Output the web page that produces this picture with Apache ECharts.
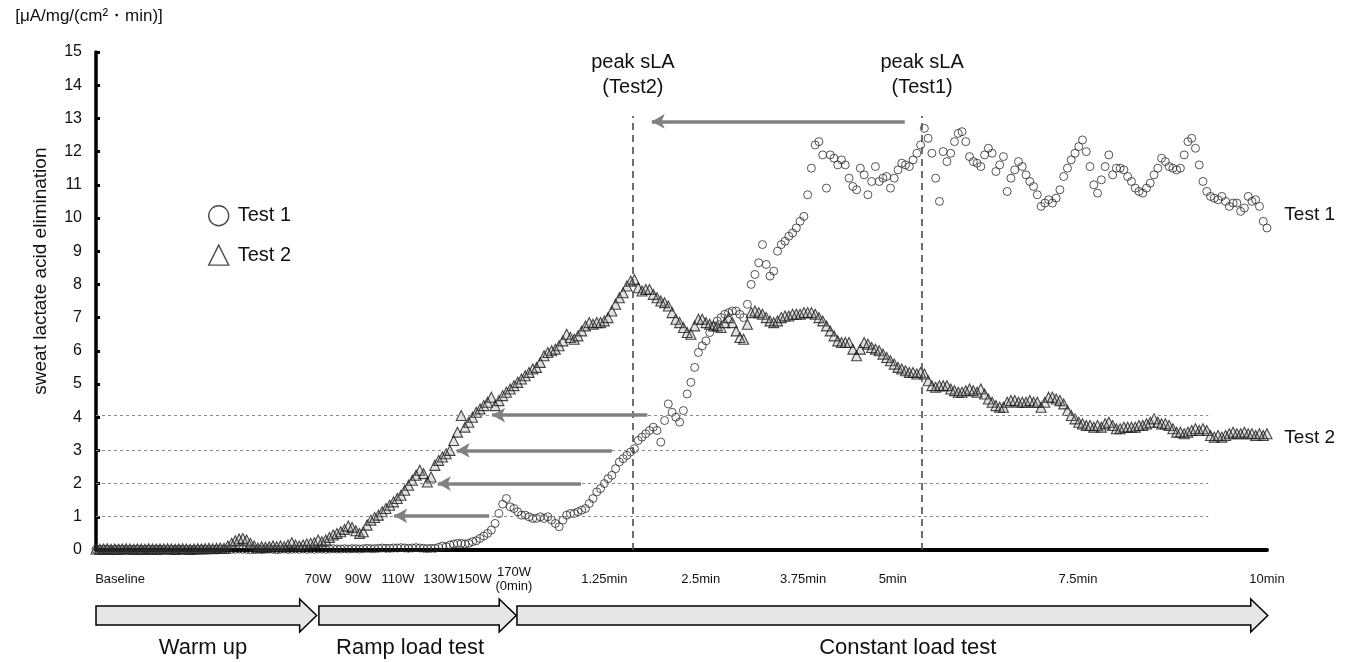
<!DOCTYPE html>
<html><head><meta charset="utf-8">
<script src="https://cdn.jsdelivr.net/npm/echarts@6/dist/echarts.min.js"></script>
<style>html,body{margin:0;padding:0;background:#fff}#c{width:1354px;height:662px}</style>
</head><body><div id="c"></div>
<script>
// sampling clock (minutes relative to start of constant load, 0 min = 170W)
const sampleStart = -5.55;
const sampleStep = 0.05;

const seriesNames = ['Test 1', 'Test 2'];

// Test 1 (circles), one value per sample
const test1 = [
0.02,0.01,0.03,0.02,0.01,0.02,0.03,0.02,0.01,0.02,
0.02,0.03,0.01,0.02,0.02,0.01,0.03,0.02,0.02,0.01,
0.02,0.02,0.03,0.01,0.02,0.02,0.01,0.02,0.03,0.02,
0.01,0.02,0.02,0.03,0.02,0.01,0.02,0.02,0.03,0.02,
0.02,0.01,0.02,0.03,0.02,0.02,0.03,0.02,0.01,0.02,
0.03,0.02,0.02,0.03,0.02,0.03,0.02,0.03,0.02,0.03,
0.03,0.02,0.03,0.04,0.03,0.03,0.04,0.03,0.04,0.04,
0.03,0.04,0.05,0.04,0.04,0.05,0.06,0.05,0.05,0.06,
0.06,0.07,0.06,0.05,0.06,0.07,0.06,0.05,0.04,0.05,
0.05,0.08,0.12,0.1,0.15,0.18,0.2,0.2,0.18,0.2,
0.25,0.28,0.35,0.42,0.5,0.6,0.8,1.1,1.38,1.55,
1.3,1.25,1.15,1.05,1.05,1.0,0.95,0.95,1.0,0.95,
1.0,0.9,0.8,0.7,0.9,1.05,1.1,1.1,1.15,1.2,
1.25,1.4,1.55,1.75,1.85,2.0,2.15,2.25,2.45,2.65,
2.75,2.85,2.95,3.05,3.3,3.4,3.5,3.6,3.7,3.6,
3.25,3.9,4.4,4.15,4.0,3.85,4.2,4.7,5.05,5.5,
5.95,6.15,6.3,6.55,6.75,6.9,7.0,7.1,7.15,7.2,
7.2,7.1,7.0,7.4,8.0,8.3,8.65,9.2,8.6,8.25,
8.4,9.0,9.2,9.3,9.45,9.55,9.7,9.9,10.05,10.7,
11.5,12.2,12.3,11.9,10.9,11.9,11.8,11.6,11.75,11.6,
11.2,10.95,10.85,11.5,11.3,10.7,11.1,11.55,11.1,11.2,
11.25,10.9,11.2,11.45,11.65,11.6,11.55,11.75,11.95,12.2,
12.7,12.4,11.95,11.2,10.5,12.0,11.7,11.95,12.3,12.55,
12.6,12.3,11.85,11.7,11.65,11.55,11.9,12.1,11.95,11.4,
11.6,11.85,10.8,11.2,11.45,11.7,11.55,11.3,11.1,10.95,
10.7,10.35,10.45,10.55,10.45,10.6,10.85,11.25,11.5,11.75,
11.95,12.15,12.35,12.0,11.55,11.0,10.75,11.15,11.55,11.9,
11.3,11.5,11.5,11.45,11.25,11.1,10.9,10.8,10.75,10.9,
11.05,11.3,11.5,11.8,11.7,11.55,11.5,11.45,11.5,11.9,
12.3,12.4,12.1,11.6,11.1,10.8,10.65,10.6,10.55,10.65,
10.5,10.35,10.45,10.45,10.2,10.3,10.65,10.5,10.55,10.35,9.9,9.7
];

// Test 2 (triangles), one value per sample
const test2 = [
0.03,0.02,0.03,0.04,0.02,0.03,0.02,0.03,0.04,0.03,
0.02,0.03,0.03,0.02,0.04,0.03,0.02,0.03,0.03,0.04,
0.03,0.02,0.03,0.04,0.03,0.02,0.03,0.04,0.03,0.04,
0.05,0.04,0.05,0.06,0.05,0.12,0.2,0.28,0.33,0.35,
0.3,0.2,0.12,0.06,0.1,0.08,0.1,0.12,0.1,0.12,
0.1,0.15,0.22,0.15,0.12,0.15,0.18,0.2,0.22,0.3,
0.25,0.3,0.38,0.45,0.5,0.55,0.62,0.72,0.68,0.58,
0.5,0.55,0.75,0.9,0.98,1.05,1.15,1.25,1.35,1.45,
1.55,1.65,1.8,1.95,2.1,2.25,2.4,2.3,2.05,2.2,
2.55,2.7,2.8,2.9,3.0,3.3,3.55,4.05,3.7,3.85,
4.0,4.15,4.25,4.35,4.45,4.6,4.35,4.5,4.65,4.75,
4.85,4.95,5.05,5.15,5.25,5.35,5.45,5.5,5.65,5.85,
5.95,6.0,6.05,6.15,6.3,6.5,6.4,6.35,6.45,6.6,
6.75,6.85,6.8,6.85,6.85,6.9,7.0,7.2,7.4,7.6,
7.75,7.95,8.1,8.15,7.9,7.8,7.85,7.85,7.7,7.6,
7.5,7.45,7.35,7.15,6.95,6.85,6.7,6.55,6.5,6.75,
6.95,6.95,6.85,6.8,6.75,6.75,6.7,6.85,7.0,6.85,
6.6,6.4,6.35,6.8,7.15,7.2,7.15,7.1,7.0,6.9,
6.85,6.9,7.0,7.05,7.05,7.1,7.1,7.1,7.15,7.15,
7.15,7.1,7.0,6.9,6.75,6.6,6.45,6.3,6.25,6.25,
6.25,6.05,5.85,6.05,6.25,6.2,6.1,6.05,6.0,5.9,
5.8,5.7,5.6,5.5,5.45,5.4,5.35,5.35,5.3,5.35,
5.3,5.1,4.95,4.9,4.95,4.95,4.95,4.85,4.8,4.75,
4.75,4.8,4.85,4.8,4.75,4.85,4.7,4.55,4.45,4.35,
4.3,4.3,4.45,4.5,4.5,4.45,4.45,4.45,4.5,4.45,
4.45,4.3,4.45,4.6,4.6,4.55,4.5,4.4,4.2,4.05,
3.95,3.85,3.8,3.75,3.75,3.7,3.75,3.7,3.8,3.85,
3.75,3.65,3.65,3.7,3.7,3.7,3.7,3.75,3.75,3.8,
3.85,3.95,3.85,3.8,3.8,3.75,3.65,3.55,3.55,3.5,
3.55,3.6,3.65,3.6,3.65,3.6,3.45,3.4,3.45,3.4,
3.45,3.5,3.55,3.5,3.5,3.55,3.5,3.5,3.45,3.5,3.45,3.5
];

// x-axis labels and where they sit (minutes)
const tickValues = [-5.23, -2.6, -2.07, -1.54, -0.98, -0.52, 0, 1.2, 2.48, 3.84, 5.03, 7.49, 10];
const tickLabels = ['Baseline', '70W', '90W', '110W', '130W', '150W', '170W\n(0min)', '1.25min', '2.5min', '3.75min', '5min', '7.5min', '10min'];

// annotations (data space)
const guideLevels = [1.03, 2, 3, 4.06];
const guideEnd = 9.22;
const shiftFrom = [-0.33, 0.89, 1.30, 1.77];
const shiftTo = [-1.59, -1.01, -0.76, -0.29];
const shiftLevel = [1.03, 2, 3, 4.06];
const peakX = [1.58, 5.42];
const peakText = ['peak sLA\n(Test2)', 'peak sLA\n(Test1)'];
const peakTop = 13.07;
const peakShift = [5.19, 1.83, 12.91];
const phaseNames = ['Warm up', 'Ramp load test', 'Constant load test'];
const phaseFrom = [-5.55, -2.59, 0.04];
const phaseTo = [-2.62, 0.03, 10.01];
const phaseLabelAt = [-4.13, -1.38, 5.23];
const sideLabelAt = [[10.23, 10.09], [10.23, 3.37]];

const FONT = "'Liberation Sans', Arial, sans-serif";

function toPoints(arr) { return arr.map((v, i) => [sampleStart + i * sampleStep, v]); }

const markData = [];
guideLevels.forEach(v => markData.push([
  {coord: [sampleStart, v], symbol: 'none', lineStyle: {color: '#8a8a8a', width: 1, type: [3, 3]}},
  {coord: [guideEnd, v], symbol: 'none'}
]));
peakX.forEach((x, k) => markData.push([
  {coord: [x, 0], symbol: 'none', lineStyle: {color: '#4d4d4d', width: 1.6, type: [7, 5]},
   label: {show: true, position: 'end', formatter: peakText[k], fontSize: 20, lineHeight: 25, color: '#111', fontFamily: FONT, distance: 16}},
  {coord: [x, peakTop], symbol: 'none'}
]));
shiftLevel.forEach((y, k) => markData.push([
  {coord: [shiftFrom[k], y], symbol: 'none', lineStyle: {color: '#808080', width: 3.5, type: 'solid'}},
  {coord: [shiftTo[k], y], symbol: 'arrow', symbolSize: [11, 13]}
]));
markData.push([
  {coord: [peakShift[0], peakShift[2]], symbol: 'none', lineStyle: {color: '#808080', width: 3.5, type: 'solid'}},
  {coord: [peakShift[1], peakShift[2]], symbol: 'arrow', symbolSize: [11, 13]}
]);

const option = {
  animation: false,
  backgroundColor: '#fff',
  textStyle: {fontFamily: FONT},
  grid: {left: 96, right: 87, top: 52, bottom: 112, containLabel: false},
  legend: {
    orient: 'vertical', left: 208, top: 205, padding: 0, itemGap: 18,
    itemWidth: 20, itemHeight: 20,
    data: [{name: seriesNames[0], icon: 'circle'}, {name: seriesNames[1], icon: 'triangle'}],
    itemStyle: {color: '#fff', borderColor: '#222', borderWidth: 1.4},
    textStyle: {fontSize: 20, color: '#111', fontFamily: FONT, padding: [0, 0, 0, 4]}
  },
  xAxis: {
    type: 'value', min: -5.55, max: 10,
    axisLine: {show: true, onZero: false, lineStyle: {color: '#000', width: 4}},
    axisTick: {show: false},
    splitLine: {show: false},
    axisLabel: {
      customValues: tickValues,
      formatter: function (v) {
        for (let k = 0; k < tickValues.length; k++) if (Math.abs(tickValues[k] - v) < 1e-6) return tickLabels[k];
        return '';
      },
      margin: 29, verticalAlign: 'middle', fontSize: 13, lineHeight: 14, color: '#111', fontFamily: FONT
    }
  },
  yAxis: {
    type: 'value', min: 0, max: 15, interval: 1,
    name: '[μA/mg/(cm²・min)]', nameLocation: 'end', nameGap: 27,
    nameTextStyle: {fontSize: 17, color: '#111', align: 'center', padding: [0, 14, 0, 0], fontFamily: FONT},
    axisLine: {show: true, onZero: false, lineStyle: {color: '#000', width: 3.5}},
    axisTick: {show: true, inside: true, length: 4, lineStyle: {color: '#000', width: 3}},
    splitLine: {show: false},
    axisLabel: {fontSize: 16, color: '#111', margin: 14, fontFamily: FONT}
  },
  series: [
    {
      type: 'scatter', name: seriesNames[1], data: toPoints(test2),
      symbol: 'triangle', symbolSize: 10, clip: false,
      itemStyle: {color: 'rgba(110,110,110,0.25)', borderColor: '#1a1a1a', borderWidth: 1.1},
      emphasis: {disabled: true}, z: 2
    },
    {
      type: 'scatter', name: seriesNames[0], data: toPoints(test1),
      symbol: 'circle', symbolSize: 8, clip: false,
      itemStyle: {color: 'rgba(255,255,255,0)', borderColor: '#2a2a2a', borderWidth: 1},
      emphasis: {disabled: true}, z: 3,
      markLine: {silent: true, animation: false, symbol: ['none', 'none'], label: {show: false}, data: markData}
    }
  ]
};

const chart = echarts.init(document.getElementById('c'), null, {renderer: 'canvas'});
chart.setOption(option);

function toPx(x, y) { return chart.convertToPixel({gridIndex: 0}, [x, y]); }
const graphics = [];
const base = toPx(0, 0)[1];
const cy = base + 65.5, bodyH = 9.5, headH = 16.5, headL = 17;
phaseNames.forEach((n, k) => {
  const x0 = toPx(phaseFrom[k], 0)[0], x1 = toPx(phaseTo[k], 0)[0];
  graphics.push({
    type: 'polygon',
    shape: {points: [[x0, cy - bodyH], [x1 - headL, cy - bodyH], [x1 - headL, cy - headH], [x1, cy],
                     [x1 - headL, cy + headH], [x1 - headL, cy + bodyH], [x0, cy + bodyH]]},
    style: {fill: '#e6e6e6', stroke: '#000', lineWidth: 1.5}
  });
  graphics.push({
    type: 'text', x: toPx(phaseLabelAt[k], 0)[0], y: base + 98,
    style: {text: n, fontSize: 22, fontFamily: FONT, fill: '#111', align: 'center', verticalAlign: 'middle', textAlign: 'center', textVerticalAlign: 'middle'}
  });
});
sideLabelAt.forEach((p, k) => {
  const q = toPx(p[0], p[1]);
  graphics.push({
    type: 'text', x: q[0], y: q[1],
    style: {text: seriesNames[k], fontSize: 19, fontFamily: FONT, fill: '#111', align: 'left', verticalAlign: 'middle', textAlign: 'left', textVerticalAlign: 'middle'}
  });
});
const midY = toPx(0, 8.4)[1];
graphics.push({
  type: 'text', x: 41, y: midY, rotation: Math.PI / 2,
  style: {text: 'sweat lactate acid elimination', fontSize: 19, fontFamily: FONT, fill: '#111', align: 'center', verticalAlign: 'middle', textAlign: 'center', textVerticalAlign: 'middle'}
});
chart.setOption({graphic: graphics});
</script>
</body></html>
